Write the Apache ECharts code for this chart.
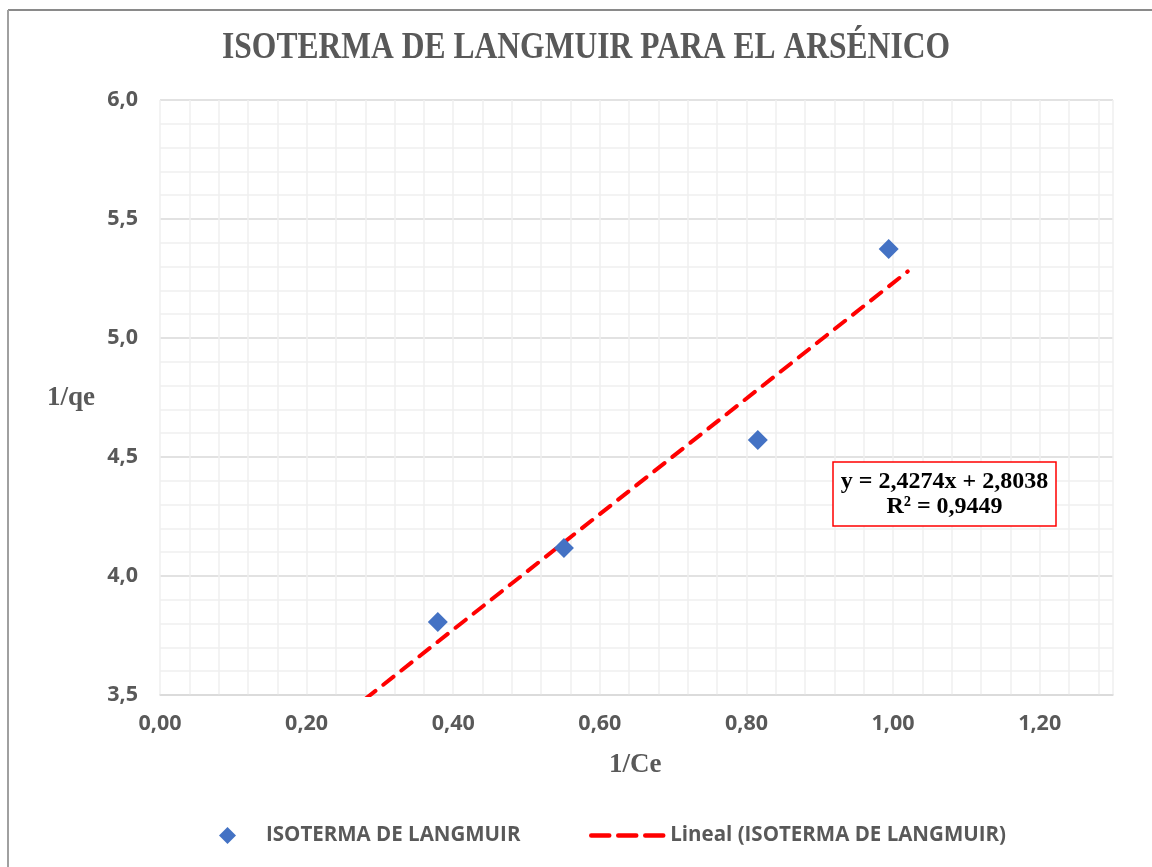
<!DOCTYPE html>
<html>
<head>
<meta charset="utf-8">
<script src="https://cdn.jsdelivr.net/npm/echarts@6/dist/echarts.min.js"></script>
<style>html,body{margin:0;padding:0;background:#fff}#c{width:1152px;height:867px}</style>
</head>
<body>
<div id="c"></div>
<script>
// Data
const invCe = [0.379, 0.551, 0.8155, 0.994];
const invQe = [3.807, 4.118, 4.571, 5.374];
const trendSlope = 2.4274;
const trendIntercept = 2.8038;
const trendR2 = 0.9449;
const trendRange = [0.28, 1.02];
const xTickLabels = ['0,00', '0,20', '0,40', '0,60', '0,80', '1,00', '1,20'];
const yTickLabels = ['3,5', '4,0', '4,5', '5,0', '5,5', '6,0'];

const chartTitle = 'ISOTERMA DE LANGMUIR PARA EL ARSÉNICO';
const seriesName = 'ISOTERMA DE LANGMUIR';
const trendName = 'Lineal (ISOTERMA DE LANGMUIR)';

const scatterData = invCe.map((x, i) => [x, invQe[i]]);
const trendData = trendRange.map(x => [x, trendSlope * x + trendIntercept]);
const fmt = v => v.toFixed(4).replace('.', ',');

const chart = echarts.init(document.getElementById('c'));
chart.setOption({
  backgroundColor: '#fff',
  animation: false,
  grid: { left: 160, right: 39, top: 100, bottom: 172, containLabel: false },
  xAxis: {
    type: 'value', min: 0, max: 1.3, interval: 0.04,
    axisLine: { show: true, lineStyle: { color: '#d9d9d9', width: 1.5 } },
    axisTick: { show: false },
    axisLabel: {
      margin: 18, color: '#595959', fontFamily: 'Open Sans', fontWeight: 'bold', fontSize: 21.5,
      showMaxLabel: false,
      formatter: v => {
        const k = Math.round(v * 100);
        if (k % 20 !== 0) return '';
        return xTickLabels[k / 20] || '';
      }
    },
    splitLine: { show: true, lineStyle: { color: '#efefef', width: 1.5 } }
  },
  yAxis: {
    type: 'value', min: 3.5, max: 6, interval: 0.5,
    axisLine: { show: false },
    axisTick: { show: false },
    axisLabel: {
      margin: 22, color: '#595959', fontFamily: 'Open Sans', fontWeight: 'bold', fontSize: 21.5,
      formatter: v => yTickLabels[Math.round((v - 3.5) / 0.5)] || ''
    },
    splitLine: { show: true, lineStyle: { color: '#d9d9d9', width: 1.5 } },
    minorTick: { show: false, splitNumber: 5 },
    minorSplitLine: { show: true, lineStyle: { color: '#efefef', width: 1.5 } }
  },
  legend: [
    {
      data: [{ name: seriesName, icon: 'diamond' }],
      left: 214, top: 820, itemWidth: 17, itemHeight: 17,
      textStyle: { color: '#595959', fontFamily: 'Open Sans', fontWeight: 'bold', fontSize: 20.5, padding: [0, 0, 0, 25] }
    },
    {
      data: [trendName],
      left: 584, top: 820, itemWidth: 74, itemHeight: 14,
      itemStyle: { opacity: 0 },
      lineStyle: { color: '#ff0000', width: 4.5, type: [18, 9] },
      textStyle: { color: '#595959', fontFamily: 'Open Sans', fontWeight: 'bold', fontSize: 20.5 }
    }
  ],
  series: [
    {
      name: seriesName, type: 'scatter', data: scatterData,
      symbol: 'diamond', symbolSize: 20,
      itemStyle: { color: '#4472C4', opacity: 1 }, z: 3
    },
    {
      name: trendName, type: 'line', data: trendData,
      symbol: 'none', clip: true, z: 2,
      lineStyle: { color: '#ff0000', width: 4, type: [13, 10], cap: 'round' },
      itemStyle: { color: '#ff0000' }
    }
  ],
  graphic: [
    { type: 'line', shape: { x1: 8, y1: 10, x2: 1160, y2: 10 }, style: { stroke: '#8a8a8a', lineWidth: 2 }, silent: true },
    { type: 'line', shape: { x1: 8, y1: 10, x2: 8, y2: 880 }, style: { stroke: '#a0a0a0', lineWidth: 2 }, silent: true },
    { type: 'text', x: 586, y: 48, scaleX: 0.853, scaleY: 1,
      style: { text: chartTitle, font: 'bold 37px "Liberation Serif"', fill: '#595959', align: 'center', verticalAlign: 'middle' } },
    { type: 'text', left: 47, top: 385, style: { text: '1/qe', font: 'bold 27px "Liberation Serif"', fill: '#595959' } },
    { type: 'text', left: 609, top: 752, style: { text: '1/Ce', font: 'bold 27px "Liberation Serif"', fill: '#595959' } },
    { type: 'rect', shape: { x: 833, y: 462, width: 223, height: 64 }, style: { fill: '#fff', stroke: '#ff0000', lineWidth: 1.5 }, z: 10 },
    { type: 'text', x: 944.5, y: 494, z: 11,
      style: { text: 'y = ' + fmt(trendSlope) + 'x + ' + fmt(trendIntercept) + '\nR² = ' + fmt(trendR2),
        font: 'bold 24px "Liberation Serif"', fill: '#000', align: 'center', verticalAlign: 'middle', lineHeight: 25 } }
  ]
});
</script>
</body>
</html>
